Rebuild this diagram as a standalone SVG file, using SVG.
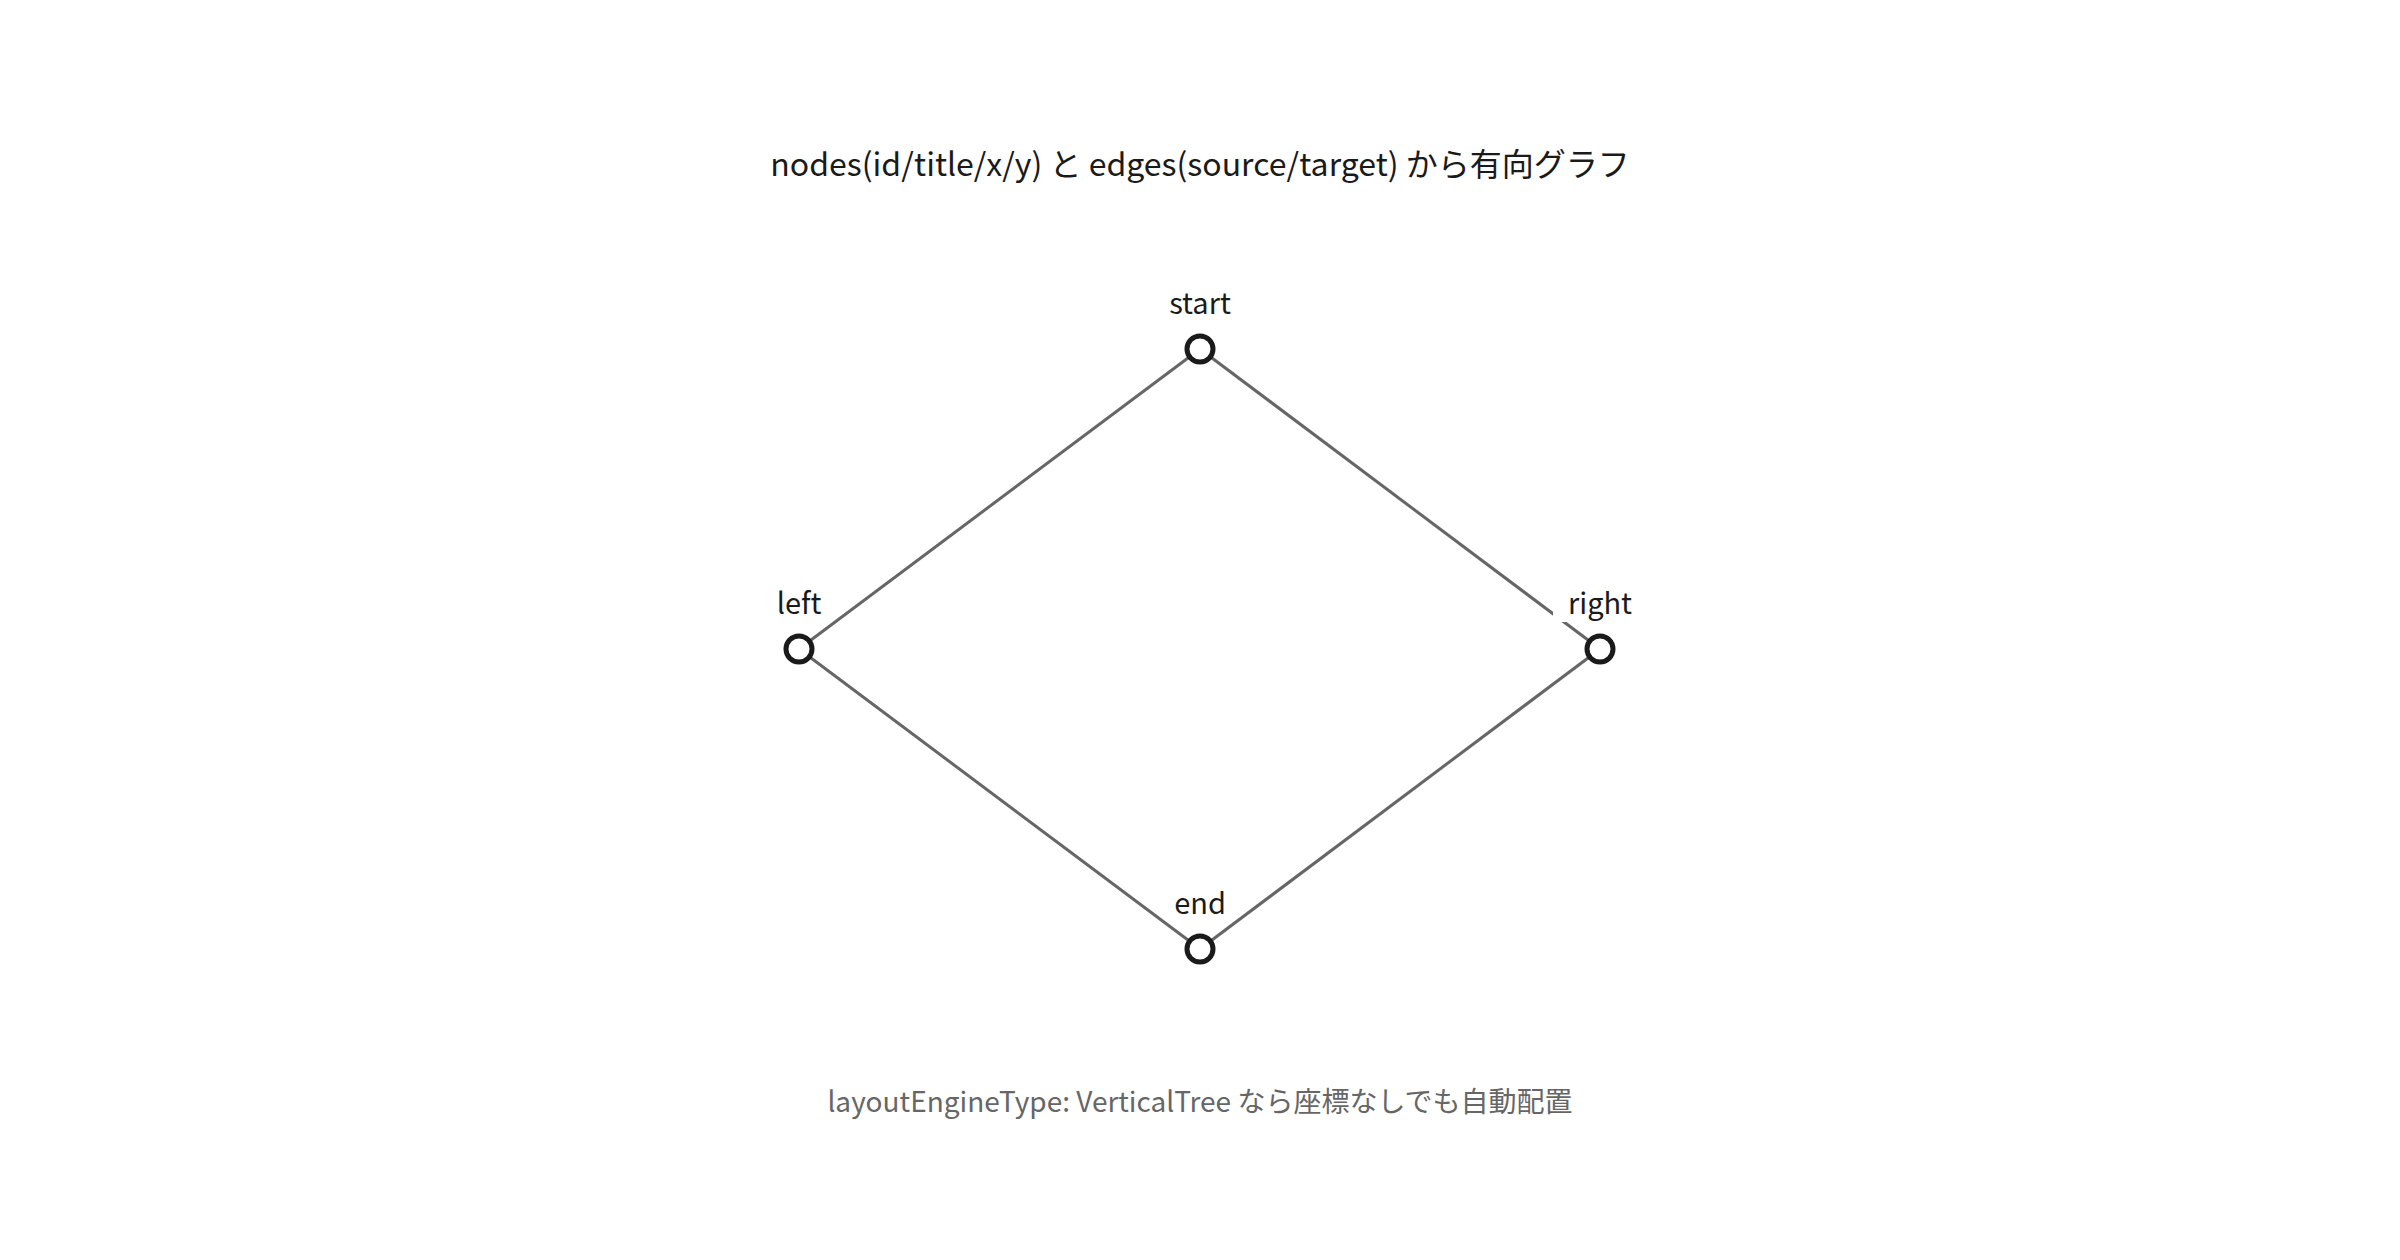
<svg xmlns="http://www.w3.org/2000/svg" width="2400" height="1260" viewBox="0 0 2400 1260">
<style>
text{font-family:"Noto Sans CJK JP","Noto Sans",sans-serif}
.title{font-size:32px;fill:#1a1a1a;text-anchor:middle}
.foot{font-size:28px;fill:#666;text-anchor:middle}
.lbl{font-size:29px;fill:#1a1a1a;text-anchor:middle}
.edge{stroke:#666;stroke-width:3;fill:none}
.node{fill:#fff;stroke:#1a1a1a;stroke-width:5}
.bg{fill:#fff}
</style>
<rect width="2400" height="1260" fill="#fff"/>
<text class="title" x="1200" y="176">nodes(id/title/x/y) と edges(source/target) から有向グラフ</text>
<g id="edges">
<line class="edge" x1="1200" y1="349" x2="799" y2="649"/>
<line class="edge" x1="1200" y1="349" x2="1600" y2="649"/>
<line class="edge" x1="799" y1="649" x2="1200" y2="949"/>
<line class="edge" x1="1600" y1="649" x2="1200" y2="949"/>
</g>
<g id="start">
<rect class="bg" x="1160" y="286" width="80" height="36"/>
<text class="lbl" x="1200" y="314">start</text>
<circle class="node" cx="1200" cy="349" r="13"/>
</g>
<g id="left">
<rect class="bg" x="772" y="586" width="56" height="36"/>
<text class="lbl" x="799" y="614">left</text>
<circle class="node" cx="799" cy="649" r="13"/>
</g>
<g id="right">
<rect class="bg" x="1553" y="586" width="94" height="36"/>
<text class="lbl" x="1600" y="614">right</text>
<circle class="node" cx="1600" cy="649" r="13"/>
</g>
<g id="end">
<rect class="bg" x="1174" y="888" width="52" height="32"/>
<text class="lbl" x="1200" y="914">end</text>
<circle class="node" cx="1200" cy="949" r="13"/>
</g>
<text class="foot" x="1200" y="1112">layoutEngineType: VerticalTree なら座標なしでも自動配置</text>
</svg>
